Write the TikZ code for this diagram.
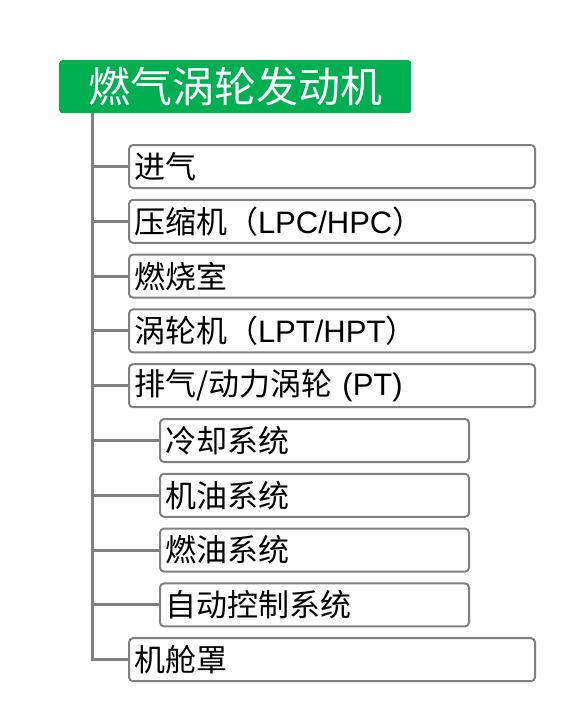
\documentclass[tikz,border=0pt]{standalone}
\usepackage{fontspec}
\setmainfont{Noto Sans CJK SC}
\newfontfamily\latin{Liberation Sans}
\usetikzlibrary{calc}
\definecolor{titlegreen}{RGB}{0,176,80}
\definecolor{linegray}{RGB}{128,128,128}
\tikzset{
	title/.style={fill=titlegreen, rounded corners=3pt, text=white, anchor=north west,
		minimum width=352pt, minimum height=53pt, inner sep=0pt, font=\fontsize{42}{46}\selectfont},
	part/.style={draw=linegray, line width=2pt, rounded corners=4pt, fill=white, anchor=west,
		text width=396pt, inner xsep=5pt, minimum height=43pt, align=left, font=\fontsize{31}{35}\selectfont},
	subpart/.style={part, text width=299pt},
	branch/.style={draw=linegray, line width=3pt}
}
\begin{document}
\begin{tikzpicture}[x=1pt, y=-1pt]
		%%%%% START %%%%%
		\useasboundingbox (0, 0) rectangle (579, 728);
		
		\node[title] (engine) at (59, 60) {燃气涡轮发动机};
		\coordinate (trunk) at (92, 113);
		
		% main parts
		\node[part] (intake) at (128, 166.5) {进气};
		\node[part] (compressor) at (128, 221.3) {压缩机（{\latin LPC/HPC}）};
		\node[part] (combustor) at (128, 276.1) {燃烧室};
		\node[part] (turbine) at (128, 330.9) {涡轮机（{\latin LPT/HPT}）};
		\node[part] (exhaust) at (128, 385.7) {排气/动力涡轮{\latin\ (PT)}};
		
		% systems
		\node[subpart] (cooling) at (159, 440.5) {冷却系统};
		\node[subpart] (oil) at (159, 495.3) {机油系统};
		\node[subpart] (fuel) at (159, 550.1) {燃油系统};
		\node[subpart] (control) at (159, 604.9) {自动控制系统};
		
		\node[part] (cowl) at (128, 659.7) {机舱罩};
		
		% tree lines
		\draw[branch] (trunk) |- (cowl.west);
		\draw[branch] (trunk |- intake.west) -- (intake.west);
		\draw[branch] (trunk |- compressor.west) -- (compressor.west);
		\draw[branch] (trunk |- combustor.west) -- (combustor.west);
		\draw[branch] (trunk |- turbine.west) -- (turbine.west);
		\draw[branch] (trunk |- exhaust.west) -- (exhaust.west);
		\draw[branch] (trunk |- cooling.west) -- (cooling.west);
		\draw[branch] (trunk |- oil.west) -- (oil.west);
		\draw[branch] (trunk |- fuel.west) -- (fuel.west);
		\draw[branch] (trunk |- control.west) -- (control.west);
		
		%%%%% END %%%%%
\end{tikzpicture}
\end{document}
